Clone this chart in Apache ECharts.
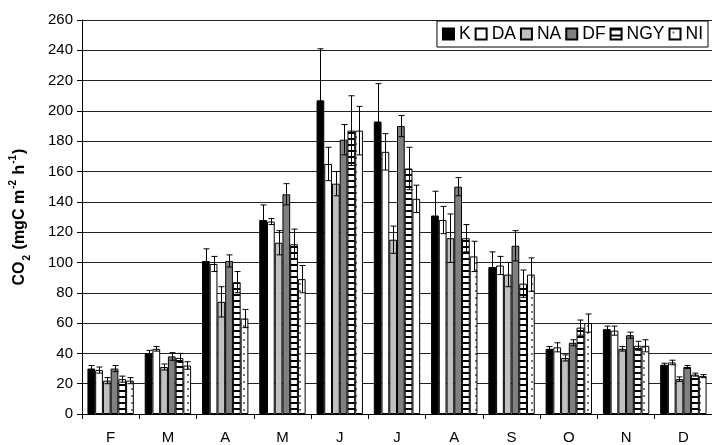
<!DOCTYPE html>
<html><head><meta charset="utf-8">
<script src="https://cdn.jsdelivr.net/npm/echarts@6/dist/echarts.min.js"></script>
<style>html,body{margin:0;padding:0;background:#fff}#c{width:712px;height:445px}</style>
</head><body><div id="c"></div>
<script>
const categories = ['F','M','A','M','J','J','A','S','O','N','D'];
const seriesNames = ['K','DA','NA','DF','NGY','NI'];
const K     = [30, 40, 101, 128, 207, 193, 131, 97, 43, 56, 32.5];
const K_err = [2, 2, 8, 10, 34, 25, 16, 10, 1.5, 2, 1];
const DA     = [29, 43, 99, 127, 165, 173, 128, 98, 44, 55, 34];
const DA_err = [2, 1.5, 5, 2, 11, 12, 9, 6, 3, 3, 1.5];
const NA     = [22, 31, 74, 113, 152, 115, 116, 92, 37, 43, 23];
const NA_err = [2, 2, 10, 8, 8, 9, 16, 8, 2, 1.5, 1.5];
const DF     = [30, 38, 101, 145, 181, 190, 150, 111, 47, 52, 31];
const DF_err = [2, 2.5, 4, 7, 10, 7, 6, 10, 2, 2, 1];
const NGY     = [23, 37, 87, 112, 187, 162, 116, 86, 57, 45, 26];
const NGY_err = [2, 3, 7, 10, 23, 14, 9, 9, 5, 3, 1];
const NI     = [22, 32, 63, 89, 187, 142, 104, 92, 60, 45, 25];
const NI_err = [2, 2.5, 6, 9, 16, 9, 10, 11, 6, 4, 1];
const yTicks = {min: 0, max: 260, interval: 20};

const values = [K, DA, NA, DF, NGY, NI];
const errors = [K_err, DA_err, NA_err, DF_err, NGY_err, NI_err];

function stripePattern(){
  const c = document.createElement('canvas'); c.width = 8; c.height = 6;
  const g = c.getContext('2d');
  g.fillStyle = '#fff'; g.fillRect(0,0,8,6);
  g.fillStyle = '#000'; g.fillRect(0,0,8,2);
  return c;
}
function dotPattern(){
  const c = document.createElement('canvas'); c.width = 8; c.height = 7;
  const g = c.getContext('2d');
  g.fillStyle = '#fff'; g.fillRect(0,0,8,7);
  g.fillStyle = '#777'; g.fillRect(3,3,2,2);
  return c;
}
const fills = ['#000', '#fff', '#c0c0c0', '#808080',
  {image: stripePattern(), repeat: 'repeat'},
  {image: dotPattern(), repeat: 'repeat'}];

const CAT_GAP = 0.19;
const font = 'Arial, "Liberation Sans", sans-serif';

const barSeries = seriesNames.map((n, i) => ({
  name: n, type: 'bar', data: values[i],
  barGap: '0%', barCategoryGap: (CAT_GAP*100) + '%',
  itemStyle: {color: fills[i], borderColor: '#000', borderWidth: 1},
  emphasis: {disabled: true}
}));

const errData = [];
values.forEach((arr, s) => arr.forEach((v, c) => errData.push([c, s, v, errors[s][c]])));

const errSeries = {
  type: 'custom', data: errData, z: 10, silent: true,
  encode: {x: 0, y: 2},
  renderItem: function(params, api){
    const c = api.value(0), s = api.value(1), v = api.value(2), e = api.value(3);
    const band = api.size([1, 0])[0];
    const bw = band * (1 - CAT_GAP) / 6;
    const cx = Math.round(api.coord([c, v])[0] + (s - 2.5) * bw) + 0.5;
    const top = api.coord([c, v + e])[1];
    const bot = api.coord([c, v - e])[1];
    const hw = 3;
    const st = {stroke: '#000', lineWidth: 1};
    return {type: 'group', children: [
      {type: 'line', shape: {x1: cx, y1: top, x2: cx, y2: bot}, style: st},
      {type: 'line', shape: {x1: cx - hw, y1: top, x2: cx + hw, y2: top}, style: st},
      {type: 'line', shape: {x1: cx - hw, y1: bot, x2: cx + hw, y2: bot}, style: st}
    ]};
  }
};

const chart = echarts.init(document.getElementById('c'), null, {renderer: 'canvas'});
chart.setOption({
  animation: false,
  backgroundColor: '#fff',
  textStyle: {fontFamily: font},
  grid: {left: 77, top: 20, width: 638, height: 394, containLabel: false},
  legend: {
    data: seriesNames, right: 4, top: 21, orient: 'horizontal',
    width: 300,
    itemWidth: 11, itemHeight: 11, itemGap: 4,
    padding: [4, 5, 4, 5],
    backgroundColor: '#fff', borderColor: '#000', borderWidth: 1,
    icon: 'rect',
    textStyle: {fontSize: 17.5, color: '#000', fontFamily: font}
  },
  xAxis: {
    type: 'category', data: categories,
    axisLine: {lineStyle: {color: '#000', width: 1}},
    axisTick: {show: true, interval: 0, length: 5, lineStyle: {color: '#000'}},
    axisLabel: {fontSize: 15, color: '#000', margin: 16, fontFamily: font},
    splitLine: {show: false}
  },
  yAxis: {
    type: 'value', min: yTicks.min, max: yTicks.max, interval: yTicks.interval,
    name: '{n|CO}{sub|2}{n| (mgC m}{sup|-2}{n| h}{sup|-1}{n|)}',
    nameLocation: 'middle', nameGap: 50,
    nameTextStyle: {
      fontSize: 16, fontWeight: 'bold', color: '#000', fontFamily: font,
      rich: {
        n: {fontSize: 16, fontWeight: 'bold', fontFamily: font, color: '#000', lineHeight: 24, verticalAlign: 'middle'},
        sub: {fontSize: 10, fontWeight: 'bold', fontFamily: font, color: '#000', lineHeight: 24, verticalAlign: 'bottom', padding: [0, 1, 0, 1]},
        sup: {fontSize: 10, fontWeight: 'bold', fontFamily: font, color: '#000', lineHeight: 24, verticalAlign: 'top', padding: [0, 1, 0, 1]}
      }
    },
    axisLine: {show: true, lineStyle: {color: '#000', width: 1}},
    axisTick: {show: true, length: 5, lineStyle: {color: '#000'}},
    axisLabel: {fontSize: 15, color: '#000', margin: 9, fontFamily: font},
    splitLine: {show: true, lineStyle: {color: '#222', width: 1}}
  },
  series: barSeries.concat([errSeries])
});
</script></body></html>
